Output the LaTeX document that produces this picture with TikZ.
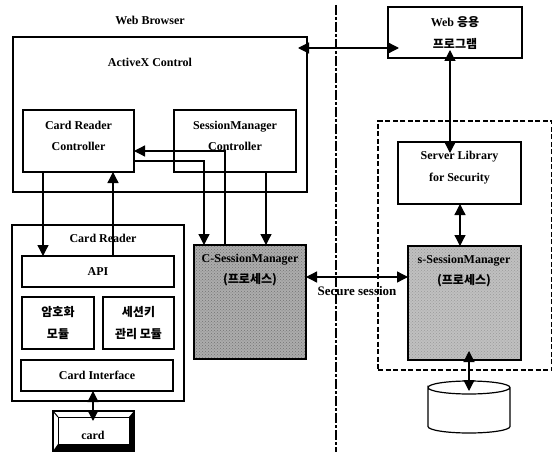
\documentclass[tikz,border=0pt]{standalone}
\usepackage{fontspec}
\setmainfont{Liberation Serif}
\newfontfamily\krfont{Noto Sans CJK KR}
\usetikzlibrary{arrows.meta,patterns}
\definecolor{procgray}{RGB}{172,172,172}
\definecolor{procsoft}{RGB}{192,192,192}
\tikzset{
  box/.style={rectangle,draw=black,line width=1.3pt,anchor=north west,inner sep=0pt,outer sep=0pt,align=center,font=\bfseries\fontsize{12}{21.5}\selectfont},
  proc/.style={box,pattern=crosshatch dots,pattern color=black!55,preaction={fill=procgray}},
  softproc/.style={box,pattern=crosshatch dots,pattern color=black!40,preaction={fill=procsoft}},
  zone/.style={rectangle,draw=black,line width=1.1pt,dash pattern=on 5pt off 2.5pt,anchor=north west,inner sep=0pt,outer sep=0pt},
  txt/.style={align=center,inner sep=0pt,font=\bfseries\fontsize{12}{21.5}\selectfont},
  edge/.style={line width=1.3pt},
  to/.style={edge,-{Triangle[length=11pt,width=11pt]}},
  both/.style={edge,{Triangle[length=11pt,width=11pt]}-{Triangle[length=11pt,width=11pt]}}
}
\begin{document}
\begin{tikzpicture}[x=1pt,y=-1pt]
  \useasboundingbox (0,0) rectangle (552,452);
  \fill[white] (0,0) rectangle (552,452);
  % left side
  \node[txt] (browserlabel) at (150,20) {Web Browser};
  \node[box,minimum width=294pt,minimum height=155pt] (browser) at (13,37) {};
  \node[txt] (activex) at (150,62) {ActiveX Control};
  \node[box,minimum width=111pt,minimum height=62pt] (crc) at (23,110) {};
  \node[txt] (crclabel) at (78.5,136) {Card Reader\\Controller};
  \node[box,minimum width=122pt,minimum height=62pt] (smc) at (174,110) {};
  \node[txt] (smclabel) at (235,136) {SessionManager\\Controller};
  \node[box,minimum width=172pt,minimum height=176pt] (reader) at (12,225) {};
  \node[txt] (readerlabel) at (103,238) {Card Reader};
  \node[box,fill=white,minimum width=152pt,minimum height=31pt] (api) at (22,256) {API};
  \node[box,minimum width=72pt,minimum height=52pt] (cipher) at (22,297) {\krfont 암호화\\\krfont 모듈};
  \node[box,minimum width=71pt,minimum height=52pt] (keymgr) at (103,297) {\krfont 세션키\\\krfont 관리 모듈};
  \node[box,minimum width=152pt,minimum height=31pt] (cardif) at (21,360) {Card Interface};
  % card with bevelled edge
  \node[box,line width=1.6pt,minimum width=81pt,minimum height=40pt] (card) at (53,411) {};
  \node[box,line width=1pt,fill=white,minimum width=71pt,minimum height=27pt] (cardface) at (58,417) {};
  \fill[black] (card.north east) -- (cardface.north east) -- (cardface.south east) -- (cardface.south west) -- (card.south west) -- (card.south east) -- cycle;
  \draw[line width=1pt] (card.north west) -- (cardface.north west);
  \node[txt] (cardlabel) at (93,435) {card};
  \node[proc,minimum width=112pt,minimum height=114pt] (csm) at (194,245) {};
  \node[txt] (csmlabel) at (250,270) {C-SessionManager\\{\krfont (프로세스)}};
  % right side
  \node[box,minimum width=134pt,minimum height=51pt] (webapp) at (388,7) {};
  \node[txt] (webapplabel) at (455,33) {Web {\krfont 응용}\\\krfont 프로그램};
  \node[zone,minimum width=174pt,minimum height=249pt] (secure) at (378,121) {};
  \node[box,fill=white,minimum width=123pt,minimum height=62pt] (serverlib) at (398,142) {};
  \node[txt] (serverlabel) at (459.5,167.5) {Server Library\\for Security};
  \node[softproc,minimum width=113pt,minimum height=114pt] (ssm) at (408,246) {};
  \node[txt] (ssmlabel) at (464,271) {s-SessionManager\\{\krfont (프로세스)}};
  % storage drum
  \node[rectangle,minimum width=82pt,minimum height=52pt,anchor=north west,inner sep=0pt,outer sep=0pt] (db) at (428,381) {};
  \draw[line width=1.2pt] ([yshift=-6.5pt]db.north west) arc[start angle=180,end angle=-180,x radius=41pt,y radius=6.5pt]
    -- ([yshift=6.5pt]db.south west) arc[start angle=180,end angle=360,x radius=41pt,y radius=6.5pt]
    -- ([yshift=-6.5pt]db.north east);
  % divider
  \coordinate (divtop) at (336,5);
  \coordinate (divbot) at (336,452);
  \draw[line width=1.5pt,dash pattern=on 10pt off 2pt on 3pt off 2pt] (divtop) -- (divbot);
  % connectors
  \draw[both,shorten <=-9pt,shorten >=-11pt] (browser.east |- 0,48) -- (webapp.west |- 0,48);
  \draw[both,shorten <=-8pt,shorten >=-11pt] (webapp.south -| 450,0) -- (serverlib.north -| 450,0);
  \draw[both] (serverlib.south -| 460,0) -- (ssm.north -| 460,0);
  \draw[to] (crc.south -| 43,0) -- (api.north -| 43,0);
  \draw[to] (api.north -| 113,0) -- (crc.south -| 113,0);
  \draw[to] (crc.east |- 0,161) -- (204,161) -- (csm.north -| 204,0);
  \draw[to] (csm.north -| 225,0) -- (225,151) -- (crc.east |- 0,151);
  \draw[to] (smc.south -| 266,0) -- (csm.north -| 266,0);
  \draw[both] (csm.east |- 0,277) -- (ssm.west |- 0,277);
  \node[inner sep=0pt,font=\bfseries\fontsize{13}{15}\selectfont] (seclabel) at (357,291) {Secure session};
  \draw[both,shorten <=-9pt,shorten >=-10pt] (ssm.south -| 469,0) -- (db.north -| 469,0);
  \draw[both,shorten >=-10pt] (cardif.south -| 93,0) -- (card.north -| 93,0);
\end{tikzpicture}
\end{document}
